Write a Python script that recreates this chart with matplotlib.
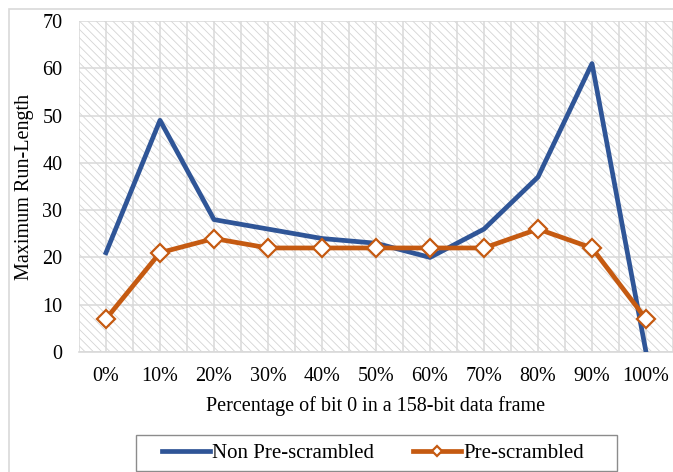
"""Maximum run-length vs. share of bit 0, with and without pre-scrambling."""

import matplotlib.pyplot as plt
import numpy as np
from matplotlib.patches import Rectangle

categories = ["0%", "10%", "20%", "30%", "40%", "50%", "60%", "70%", "80%", "90%", "100%"]
non_prescrambled = [21, 49, 28, 26, 24, 23, 20, 26, 37, 61, 0]
prescrambled = [7, 21, 24, 22, 22, 22, 22, 22, 26, 22, 7]

BLUE = "#2f5597"
ORANGE = "#c55a11"
GRID = "#d9d9d9"

plt.rcParams["font.family"] = ["Liberation Serif", "DejaVu Serif"]
plt.rcParams["hatch.linewidth"] = 0.6


def main() -> None:
    fig = plt.figure(figsize=(6.73, 4.72), dpi=100, facecolor="white")
    ax = fig.add_axes([79 / 673, 1 - 352 / 472, 594 / 673, 331 / 472])

    # chart border (only top/left visible in the crop)
    fig.patches.append(
        Rectangle((9 / 673, -0.05), 1.1, 1 - 9 / 472 + 0.05, transform=fig.transFigure,
                  facecolor="none", edgecolor=GRID, linewidth=1.2, zorder=0)
    )

    ax.add_patch(
        Rectangle((0, 0), 1, 1, transform=ax.transAxes, facecolor="white",
                  edgecolor="#d4d4d4", hatch="\\\\\\\\", linewidth=0, zorder=0)
    )

    x = np.arange(len(categories))
    ax.plot(x, non_prescrambled, color=BLUE, linewidth=3.4, label="Non Pre-scrambled", zorder=3)
    ax.plot(x, prescrambled, color=ORANGE, linewidth=3.4, marker="D", markersize=9,
            markerfacecolor="white", markeredgecolor=ORANGE, markeredgewidth=1.6,
            label="Pre-scrambled", zorder=4)

    ax.set_xlim(-0.5, len(categories) - 0.5)
    ax.set_ylim(0, 70)
    ax.set_yticks(np.arange(0, 71, 10))
    ax.set_xticks(x)
    ax.set_xticklabels(categories)
    ax.set_xticks(np.arange(-0.5, len(categories), 1.0), minor=True)
    ax.tick_params(which="both", length=0, labelsize=14.5, colors="black")
    ax.tick_params(axis="x", pad=11)
    ax.tick_params(axis="y", pad=12)
    ax.grid(True, which="both", color=GRID, linewidth=1.1, zorder=1)
    ax.set_axisbelow(True)
    for side in ["top", "right", "left"]:
        ax.spines[side].set_visible(False)
    ax.spines["bottom"].set_color(GRID)
    ax.spines["bottom"].set_linewidth(1.2)

    ax.set_xlabel("Percentage of bit 0 in a 158-bit data frame", fontsize=14.5, labelpad=7)
    ax.set_ylabel("Maximum Run-Length", fontsize=14.5, labelpad=6)

    handles, labels = ax.get_legend_handles_labels()
    fig.legend(handles, labels, loc="center", bbox_to_anchor=(373 / 673, 1 - 453 / 472),
               ncol=2, fontsize=15, frameon=False, handlelength=2.3, markerscale=0.6,
               handletextpad=0.1, columnspacing=1.9, borderaxespad=0)
    # legend frame drawn by hand: Excel pads the sides more than top/bottom
    fig.patches.append(
        Rectangle((136 / 673, 1 - 471 / 472), 481 / 673, 36 / 472, transform=fig.transFigure,
                  facecolor="none", edgecolor="#8c8c8c", linewidth=1.0, zorder=0)
    )

    fig.savefig("out.png", dpi=100, facecolor="white")
    plt.close(fig)


if __name__ == "__main__":
    main()
